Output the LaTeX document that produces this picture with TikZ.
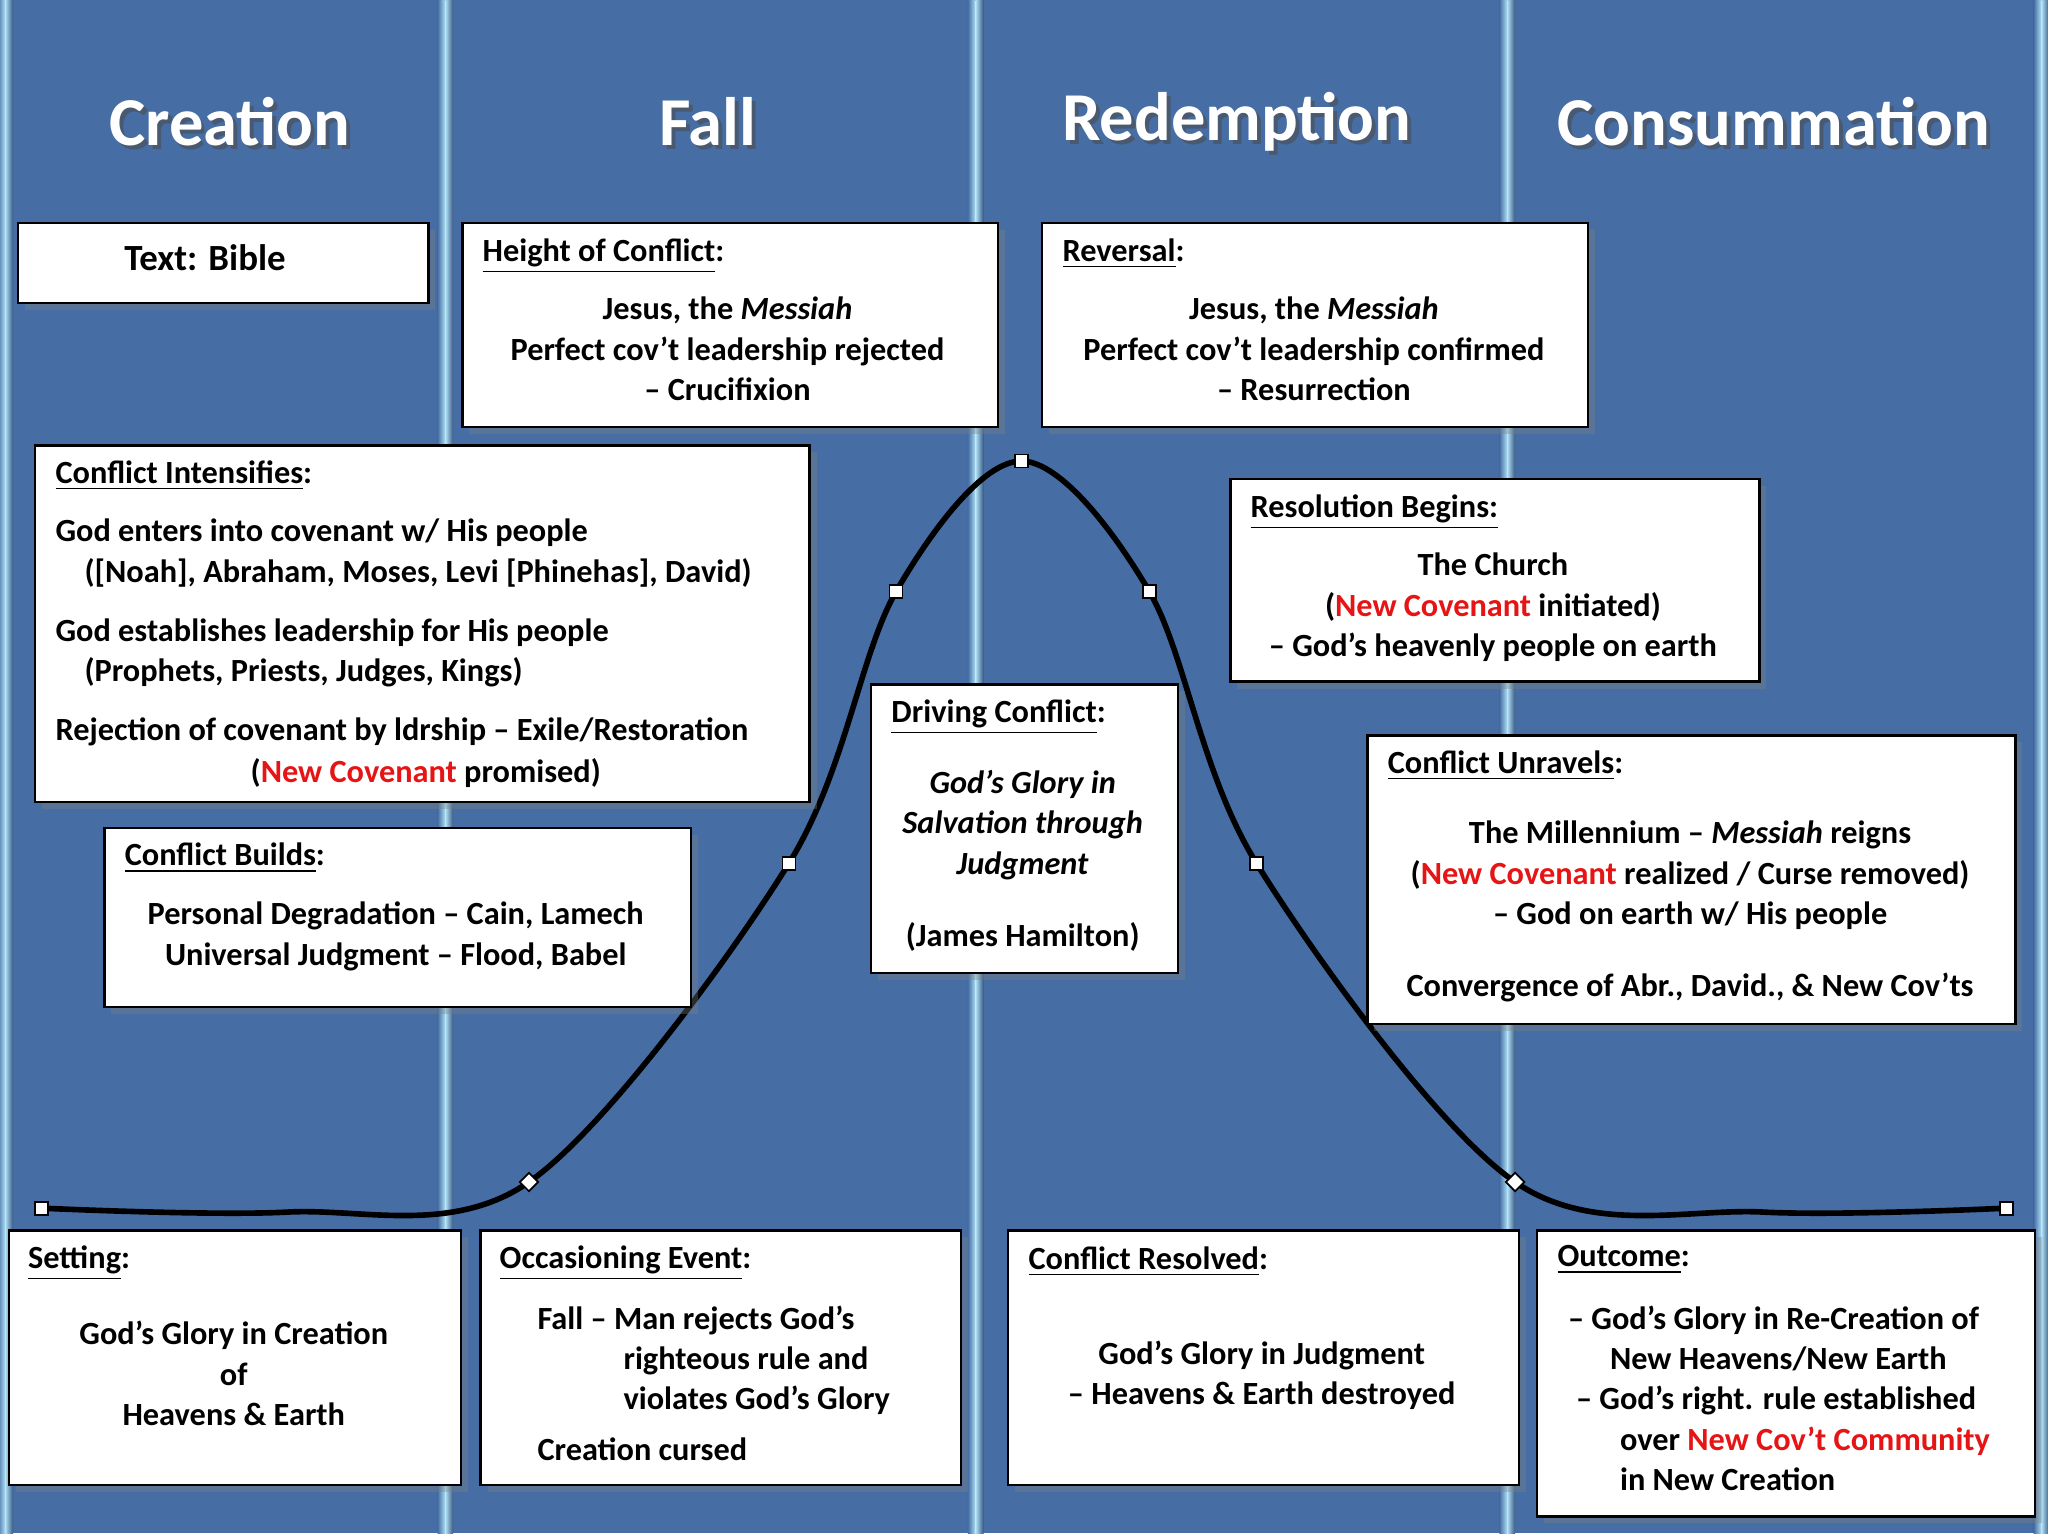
\documentclass[tikz,border=0pt]{standalone}
\usepackage{fontspec}
\setmainfont{Carlito}
\usetikzlibrary{positioning,shadows}
\definecolor{PanelBlue}{RGB}{70,110,165}
\definecolor{EdgeCyan}{RGB}{175,225,245}
\definecolor{NCRed}{RGB}{230,20,20}
\newcommand{\nc}[1]{\textcolor{NCRed}{#1}}
\tikzset{
    box/.style={draw=black, fill=white, line width=0.7pt, drop shadow={shadow xshift=2pt, shadow yshift=-2pt, opacity=0.35}},
    hd/.style={anchor=north west, inner sep=0pt, font=\bfseries\fontsize{9.2}{11.5}\selectfont},
    txt/.style={anchor=north, inner sep=0pt, align=center, font=\bfseries\fontsize{9.2}{11.5}\selectfont},
    ltxt/.style={txt, anchor=north west, align=left},
    title/.style={font=\bfseries\fontsize{19.5}{22}\selectfont, text=white},
    knot/.style={draw=black, fill=white, line width=0.5pt, inner sep=0pt, minimum size=0.13cm},
    curve/.style={line width=1.6pt, black}
}
\begin{document}
\begin{tikzpicture}[x=0.01306cm, y=-0.01306cm]
\useasboundingbox (0,0) rectangle (1568,1174);
\fill[PanelBlue] (0,0) rectangle (1568,1174);
% column edges
\foreach \cx in {4,341,747,1154,1563}{
  \shade[left color=PanelBlue, right color=EdgeCyan] (\cx-6,0) rectangle (\cx,1174);
  \shade[left color=EdgeCyan, right color=PanelBlue!80!black] (\cx,0) rectangle (\cx+6,1174);
}
% titles
\foreach \tx/\tt in {176/Creation, 542/Fall, 947/Redemption, 1358/Consummation}{
  \node[title, text=black!70, opacity=0.6] at (\tx+3,96) {\tt};
  \node[title] at (\tx,93) {\tt};
}
% curve
\coordinate (p0) at (32,925);
\coordinate (p1) at (405,905);
\coordinate (p2) at (604,661);
\coordinate (p3) at (686,453);
\coordinate (p4) at (782,353);
\coordinate (p5) at (880,453);
\coordinate (p6) at (962,661);
\coordinate (p7) at (1160,905);
\coordinate (p8) at (1536,925);
\draw[curve] plot[smooth, tension=0.55] coordinates {(p0) (220,928) (p1) (p2) (p3) (p4) (p5) (p6) (p7) (1350,928) (p8)};
\foreach \p in {p0,p2,p3,p4,p5,p6,p8}{ \node[knot] (m\p) at (\p) {}; }
\foreach \p in {p1,p7}{ \node[knot, rotate=45] (m\p) at (\p) {}; }

% boxes
\node[box, anchor=north west, minimum width=314*0.01306cm, minimum height=61*0.01306cm] (bible) at (13,170) {};
\node[txt, anchor=center, font=\bfseries\fontsize{10.5}{12}\selectfont] (biblet) at (157,197) {Text: Bible};

\node[box, anchor=north west, minimum width=410*0.01306cm, minimum height=156*0.01306cm] (height) at (353,170) {};
\node[hd] (heighth) at (369,182) {\underline{Height of Conflict}:};
\node[txt] (heightt) at (557,227) {Jesus, the \textit{Messiah}\\Perfect cov’t leadership rejected\\– Crucifixion};

\node[box, anchor=north west, minimum width=418*0.01306cm, minimum height=156*0.01306cm] (rev) at (797,170) {};
\node[hd] (revh) at (813,182) {\underline{Reversal}:};
\node[txt] (revt) at (1006,227) {Jesus, the \textit{Messiah}\\Perfect cov’t leadership confirmed\\– Resurrection};

\node[box, anchor=north west, minimum width=593*0.01306cm, minimum height=273*0.01306cm] (intens) at (26,340) {};
\node[hd] (intensh) at (42,352) {\underline{Conflict Intensifies}:};
\node[ltxt] (intenst) at (42,397) {God enters into covenant w/ His people\\
\hspace*{0.29cm}([Noah], Abraham, Moses, Levi [Phinehas], David)\\[5.2pt]
God establishes leadership for His people\\
\hspace*{0.29cm}(Prophets, Priests, Judges, Kings)\\[5.2pt]
Rejection of covenant by ldrship – Exile/Restoration};
\node[txt] (intensn) at (326,580) {(\nc{New Covenant} promised)};

\node[box, anchor=north west, minimum width=405*0.01306cm, minimum height=155*0.01306cm] (resb) at (941,366) {};
\node[hd] (resbh) at (957,378) {\underline{Resolution Begins:}};
\node[txt] (resbt) at (1143,423) {The Church\\(\nc{New Covenant} initiated)\\– God’s heavenly people on earth};

\node[box, anchor=north west, minimum width=235*0.01306cm, minimum height=221*0.01306cm] (drive) at (666,523) {};
\node[hd] (driveh) at (682,535) {\underline{Driving Conflict}:};
\node[txt] (drivet) at (783,589) {\textit{God’s Glory in}\\\textit{Salvation through}\\\textit{Judgment}\\[9pt](James Hamilton)};

\node[box, anchor=north west, minimum width=496*0.01306cm, minimum height=221*0.01306cm] (unrav) at (1046,562) {};
\node[hd] (unravh) at (1062,574) {\underline{Conflict Unravels}:};
\node[txt] (unravt) at (1294,628) {The Millennium – \textit{Messiah} reigns\\(\nc{New Covenant} realized / Curse removed)\\– God on earth w/ His people\\[9pt]Convergence of Abr., David., \& New Cov’ts};

\node[box, anchor=north west, minimum width=449*0.01306cm, minimum height=137*0.01306cm] (build) at (79,633) {};
\node[hd] (buildh) at (95,645) {\underline{Conflict Builds}:};
\node[txt] (buildt) at (303,690) {Personal Degradation – Cain, Lamech\\Universal Judgment – Flood, Babel};

\node[box, anchor=north west, minimum width=346*0.01306cm, minimum height=195*0.01306cm] (set) at (6,941) {};
\node[hd] (seth) at (21,953) {\underline{Setting}:};
\node[txt] (sett) at (179,1011) {God’s Glory in Creation\\of\\Heavens \& Earth};

\node[box, anchor=north west, minimum width=368*0.01306cm, minimum height=195*0.01306cm] (occ) at (367,941) {};
\node[hd] (occh) at (382,953) {\underline{Occasioning Event}:};
\node[ltxt] (occt) at (411,999) {Fall – Man rejects God’s\\
\hspace*{0.86cm}righteous rule and\\
\hspace*{0.86cm}violates God’s Glory\\[3pt]
Creation cursed};

\node[box, anchor=north west, minimum width=391*0.01306cm, minimum height=195*0.01306cm] (cres) at (771,941) {};
\node[hd] (cresh) at (787,954) {\underline{Conflict Resolved}:};
\node[txt] (crest) at (966,1026) {God’s Glory in Judgment\\– Heavens \& Earth destroyed};

\node[box, anchor=north west, minimum width=381*0.01306cm, minimum height=219*0.01306cm] (out) at (1176,941) {};
\node[hd] (outh) at (1192,953) {\underline{Outcome}:};
\node[ltxt] (outt) at (1200,999) {– God’s Glory in Re-Creation of\\
\hspace*{0.42cm}New Heavens/New Earth\\
\hspace*{0.08cm}– God’s right. rule established\\
\hspace*{0.52cm}over \nc{New Cov’t Community}\\
\hspace*{0.52cm}in New Creation};
\end{tikzpicture}
\end{document}
